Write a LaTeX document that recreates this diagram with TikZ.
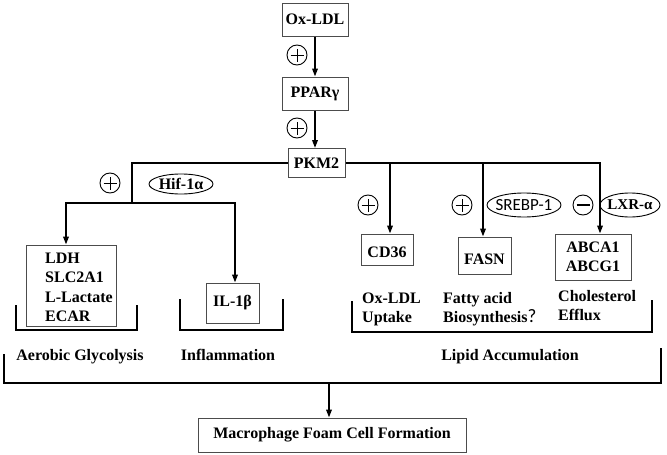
\documentclass[tikz,border=0pt]{standalone}
\usepackage{fontspec}
\setmainfont{Liberation Serif}
\newfontfamily\carlito{Carlito}
\usetikzlibrary{arrows.meta,shapes.geometric}
\begin{document}
\begin{tikzpicture}[x=1pt,y=-1pt,
  every node/.style={font=\fontsize{16}{19.5}\selectfont\bfseries, text=black},
  box/.style={draw=black!70, line width=1pt, inner sep=0pt},
  conn/.style={line width=1.8pt, black},
  arr/.style={conn, -{Triangle[length=8pt,width=5.5pt]}},
  brk/.style={line width=1.8pt, black},
  lbl/.style={inner sep=0pt},
  pm/.style={circle, draw, line width=0.9pt, minimum size=20pt, inner sep=0pt},
  plus/.style={pm, path picture={
      \draw[line width=0.9pt] ([xshift=-6.5pt]path picture bounding box.center) -- ([xshift=6.5pt]path picture bounding box.center);
      \draw[line width=0.9pt] ([yshift=-6.5pt]path picture bounding box.center) -- ([yshift=6.5pt]path picture bounding box.center);}},
  minus/.style={pm, path picture={
      \draw[line width=2.2pt] ([xshift=-6.5pt]path picture bounding box.center) -- ([xshift=6.5pt]path picture bounding box.center);}},
  oval/.style={ellipse, draw, line width=0.9pt, inner sep=0pt},
]
\fill[white] (0,0) rectangle (667,455);
\useasboundingbox (0,0) rectangle (667,455);

% top chain
\node[box, minimum width=66pt, minimum height=33pt] (ox) at (315,19.5) {Ox-LDL};
\node[box, minimum width=66pt, minimum height=33pt] (ppar) at (315,93.5) {PPARγ};
\node[box, minimum width=57pt, minimum height=29pt] (pkm) at (316.5,163) {PKM2};
\draw[arr] (ox.south) -- (ppar.north);
\draw[arr] (ppar.south) -- (ppar.south |- pkm.north);
\node[plus] (p1) at (297,55) {};
\node[plus] (p2) at (297,128) {};

% left branch
\coordinate (jl) at (132,203);
\coordinate (jll) at (66,203);
\coordinate (jlr) at (235,203);
\node[box, minimum width=90pt, minimum height=81pt] (ldh) at (71,285.5) {};
\node[lbl, anchor=west, align=left] (ldht) at (45,287.5) {LDH\\SLC2A1\\L-Lactate\\ECAR};
\node[box, minimum width=53pt, minimum height=40pt] (il) at (232.5,303) {IL-1β};
\draw[conn] (pkm.west) -| (jl);
\draw[arr] (jl) -- (jll) -- (jll |- ldh.north);
\draw[arr] (jl) -- (jlr) -- (jlr |- il.north);
\node[plus] (p3) at (110,183) {};
\node[oval, minimum width=64pt, minimum height=20pt, label={[lbl]center:Hif-1α}] (hif) at (181,184) {};

\draw[brk] (16,305) -- (16,330) -- (137,330) -- (137,305);
\draw[brk] (180,299) -- (180,330) -- (283,330) -- (283,299);
\node[lbl] (aero) at (80,357) {Aerobic Glycolysis};
\node[lbl] (infl) at (228,355) {Inflammation};

% right branch
\coordinate (r1) at (390,163);
\coordinate (r2) at (483,163);
\coordinate (r3) at (600,163);
\node[box, minimum width=52pt, minimum height=31pt, label={[lbl, yshift=-2.5pt]center:CD36}] (cd36) at (387,249.5) {};
\node[box, minimum width=53pt, minimum height=37pt, label={[lbl, yshift=-4pt]center:FASN}] (fasn) at (484.5,255.5) {};
\node[box, minimum width=76pt, minimum height=46pt, align=center] (abca) at (593,257) {ABCA1\\ABCG1};
\draw[arr] (pkm.east) -- (r3) -- (r3 |- abca.north);
\draw[arr] (r1) -- (r1 |- cd36.north);
\draw[arr] (r2) -- (r2 |- fasn.north);
\node[plus] (p4) at (368,205) {};
\node[plus] (p5) at (462,205) {};
\node[minus] (m1) at (583,205) {};
\node[oval, minimum width=74pt, minimum height=24pt, label={[lbl, font=\carlito\fontsize{17}{17}\selectfont]center:SREBP-1}] (srebp) at (524,205) {};
\node[oval, minimum width=60pt, minimum height=24pt, label={[lbl, font=\fontsize{15}{15}\selectfont\bfseries]center:LXR-α}] (lxr) at (630,205) {};

\node[lbl, anchor=west, align=left] (upt) at (362,309.5) {Ox-LDL\\Uptake};
\node[lbl, anchor=west, align=left] (fab) at (443,309) {Fatty acid\\Biosynthesis{\carlito\mdseries\fontsize{19}{19}\selectfont ?}};
\node[lbl, anchor=west, align=left] (cef) at (558,305.5) {Cholesterol\\Efflux};
\draw[brk] (352,301) -- (352,332) -- (652,332) -- (652,300);
\node[lbl] (lipid) at (510,357) {Lipid Accumulation};

% bottom
\draw[brk] (4,354) -- (4,383) -- (661,383) -- (661,348);
\coordinate (bb) at (329,383);
\node[box, minimum width=268pt, minimum height=34pt] (mfc) at (332,435) {Macrophage Foam Cell Formation};
\draw[arr] (bb) -- (bb |- mfc.north);
\end{tikzpicture}
\end{document}
